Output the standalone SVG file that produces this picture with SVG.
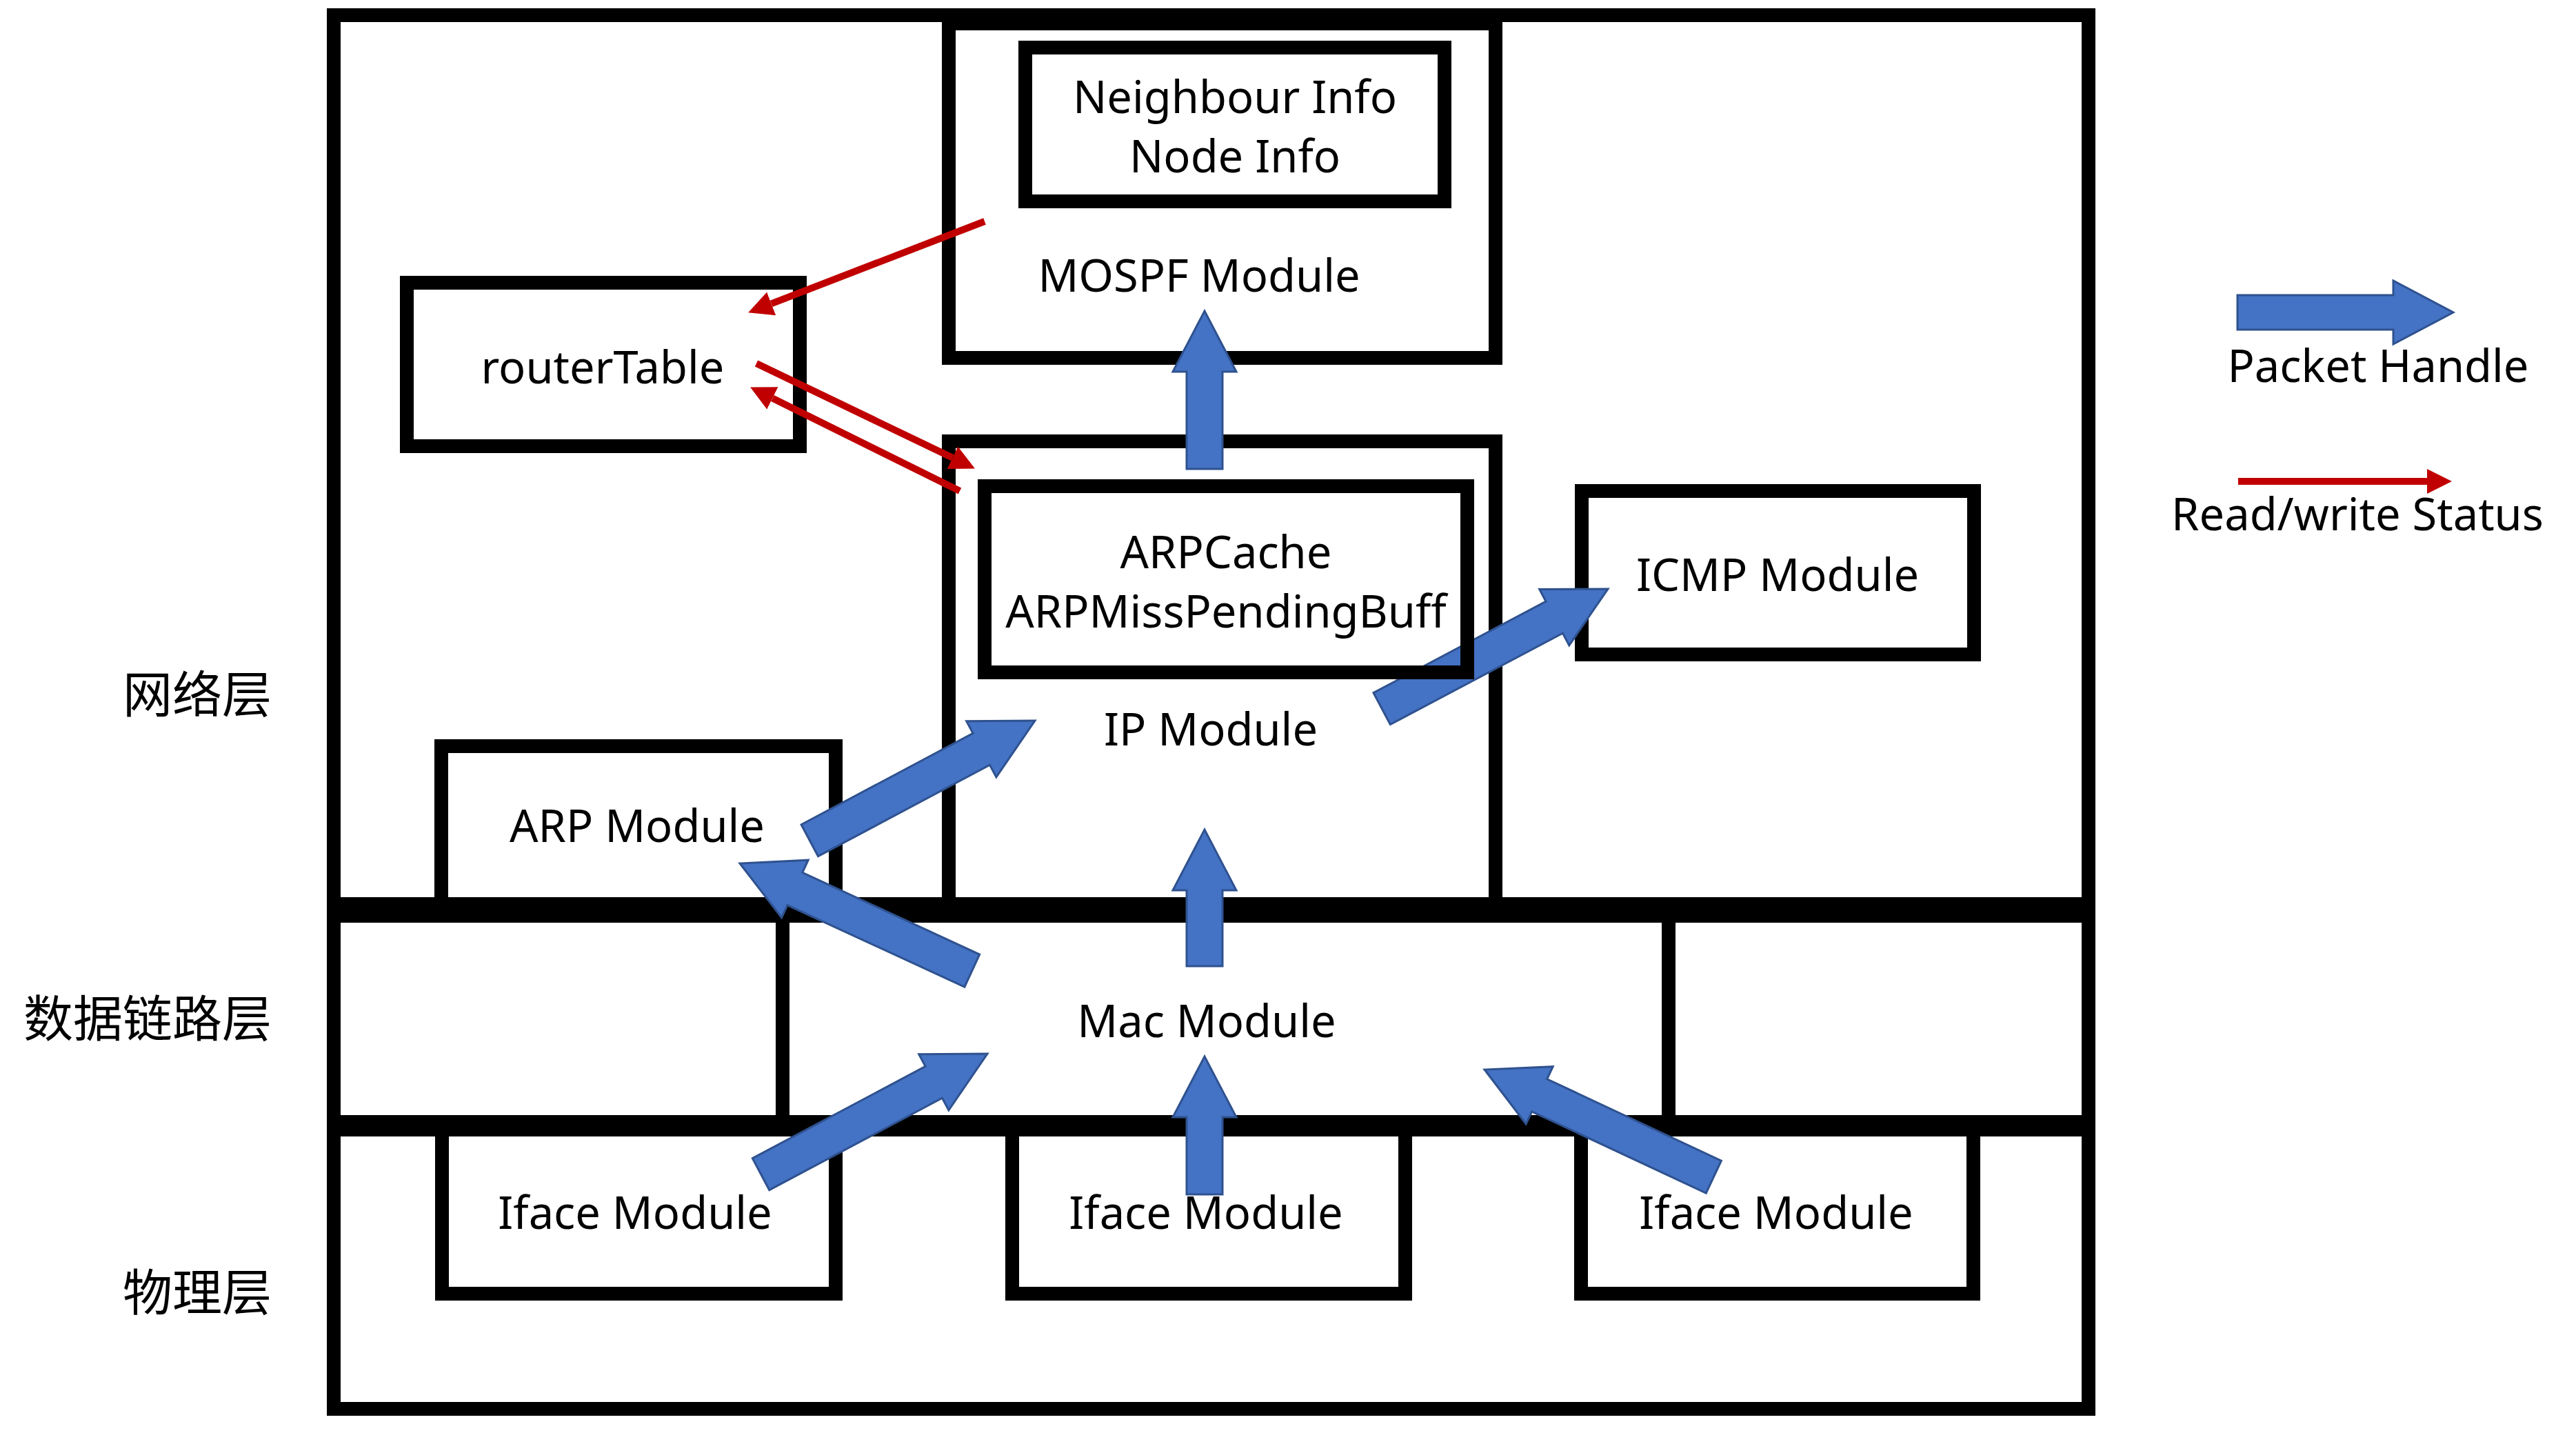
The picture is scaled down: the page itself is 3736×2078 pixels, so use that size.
<svg xmlns="http://www.w3.org/2000/svg" width="3736" height="2078" viewBox="0 0 3736 2078">
  <defs>
    <style>
      .box { fill: none; stroke: #000; stroke-width: 20; }
      .sep { fill: #000; }
      .lbl { font-family: "Noto Sans", "Liberation Sans", sans-serif; font-size: 65px; fill: #000; text-anchor: middle; }
      .cjk { font-family: "Noto Sans CJK SC", "Noto Sans", sans-serif; font-size: 72px; fill: #000; text-anchor: end; }
      .pk { fill: #4472C4; stroke: #2F528F; stroke-width: 3; stroke-linejoin: miter; }
      .rw { fill: none; stroke: #C00000; stroke-width: 10; }
    </style>
    <marker id="rh" markerUnits="userSpaceOnUse" markerWidth="36" markerHeight="36" viewBox="0 0 36 36" refX="0" refY="18" orient="auto">
      <path d="M0,0 L36,18 L0,36 Z" fill="#C00000"/>
    </marker>
  </defs>
  <rect width="3736" height="2078" fill="#fff"/>

  <g id="frame">
    <rect class="box" x="484" y="22" width="2545" height="2021"/>
    <rect class="sep" x="474" y="1301" width="2565" height="37"/>
    <rect class="sep" x="474" y="1617" width="2565" height="31"/>
  </g>

  <g id="layer-labels">
    <text class="cjk" x="394" y="1033">网络层</text>
    <text class="cjk" x="394" y="1503">数据链路层</text>
    <text class="cjk" x="394" y="1900">物理层</text>
  </g>

  <g id="mospf">
    <rect class="box" x="1376" y="34" width="793" height="485"/>
    <text class="lbl" x="1739" y="423">MOSPF Module</text>
  </g>
  <g id="neighbour-info">
    <rect class="box" x="1487" y="69" width="608" height="223"/>
    <text class="lbl" x="1791" y="164">Neighbour Info</text>
    <text class="lbl" x="1791" y="250">Node Info</text>
  </g>
  <g id="router-table">
    <rect class="box" x="590" y="410" width="570" height="237"/>
    <text class="lbl" x="874" y="556">routerTable</text>
  </g>
  <g id="ip">
    <rect class="box" x="1376" y="640" width="793" height="679"/>
    <text class="lbl" x="1756" y="1081">IP Module</text>
  </g>
  <g id="icmp">
    <rect class="box" x="2294" y="712" width="569" height="237"/>
    <text class="lbl" x="2578" y="857">ICMP Module</text>
  </g>
  <g id="arp">
    <rect class="box" x="640" y="1082" width="572" height="237"/>
    <text class="lbl" x="924" y="1221">ARP Module</text>
  </g>
  <g id="mac">
    <rect class="box" x="1135" y="1319" width="1285" height="313"/>
    <text class="lbl" x="1750" y="1504">Mac Module</text>
  </g>
  <g id="iface1">
    <rect class="box" x="641" y="1632" width="571" height="244"/>
    <text class="lbl" x="921" y="1782">Iface Module</text>
  </g>
  <g id="iface2">
    <rect class="box" x="1468" y="1632" width="570" height="244"/>
    <text class="lbl" x="1749" y="1782">Iface Module</text>
  </g>
  <g id="iface3">
    <rect class="box" x="2293" y="1632" width="569" height="244"/>
    <text class="lbl" x="2576" y="1782">Iface Module</text>
  </g>

  <g id="connectors">
    <!-- packet handle arrows -->
    <path class="pk" transform="translate(1747,451) rotate(-90)" d="M-229,-26 H-88 V-46 L0,0 L-88,46 V26 H-229 Z"/>
    <path class="pk" transform="translate(1501,1045) rotate(-28)" d="M-370,-26 H-88 V-46 L0,0 L-88,46 V26 H-370 Z"/>
    <path class="pk" transform="translate(2332,854) rotate(-27.9)" d="M-371,-26 H-88 V-46 L0,0 L-88,46 V26 H-371 Z"/>
    <path class="pk" transform="translate(1073,1252) rotate(204.8)" d="M-371,-26 H-88 V-46 L0,0 L-88,46 V26 H-371 Z"/>
    <path class="pk" transform="translate(1747,1203) rotate(-90)" d="M-198,-26 H-88 V-46 L0,0 L-88,46 V26 H-198 Z"/>
    <path class="pk" transform="translate(1432,1528) rotate(-28)" d="M-372,-26 H-88 V-46 L0,0 L-88,46 V26 H-372 Z"/>
    <path class="pk" transform="translate(1747,1532) rotate(-90)" d="M-200,-26 H-88 V-46 L0,0 L-88,46 V26 H-200 Z"/>
    <path class="pk" transform="translate(2153,1551) rotate(205.1)" d="M-367,-26 H-88 V-46 L0,0 L-88,46 V26 H-367 Z"/>
    <!-- read/write status arrows -->
    <line class="rw" x1="1428" y1="321" x2="1118.7" y2="440.4" marker-end="url(#rh)"/>
    <line class="rw" x1="1097" y1="527" x2="1381.5" y2="663.8" marker-end="url(#rh)"/>
    <line class="rw" x1="1392" y1="712" x2="1120.4" y2="577.5" marker-end="url(#rh)"/>
  </g>

  <g id="arp-cache">
    <rect class="box" x="1428" y="705" width="700" height="270"/>
    <text class="lbl" x="1778" y="824">ARPCache</text>
    <text class="lbl" x="1778" y="910">ARPMissPendingBuff</text>
  </g>

  <g id="legend">
    <path class="pk" transform="translate(3558,453)" d="M-313,-25 H-87 V-46 L0,0 L-87,46 V25 H-313 Z"/>
    <text class="lbl" x="3449" y="554">Packet Handle</text>
    <line class="rw" x1="3246" y1="698" x2="3520" y2="698" marker-end="url(#rh)"/>
    <text class="lbl" x="3419" y="769">Read/write Status</text>
  </g>
</svg>
